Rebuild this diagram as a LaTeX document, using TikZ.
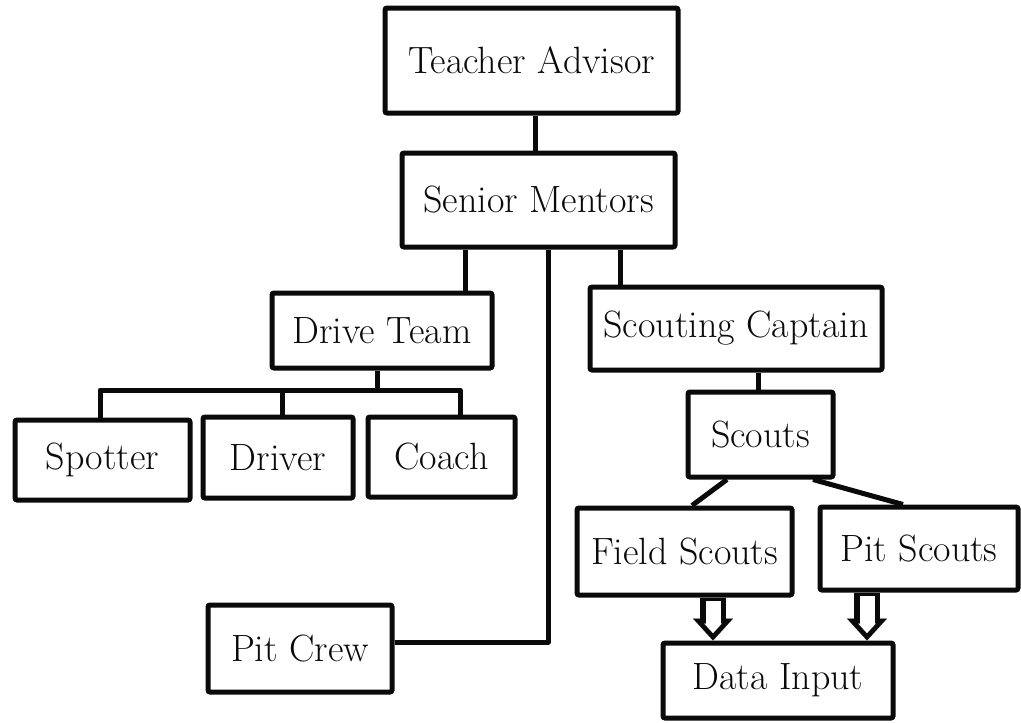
\documentclass[tikz,border=0pt]{standalone}
\usepackage{xcolor}
\usepackage{tikz}
\usetikzlibrary{calc,arrows.meta}
\definecolor{ink}{HTML}{0A0A0A}
\definecolor{paper}{HTML}{FFFFFF}
\tikzset{
  box/.style={draw=ink, fill=paper, line width=5pt, rounded corners=2pt, inner sep=0pt, text=ink, font=\fontsize{38}{44}\selectfont},
  link/.style={draw=ink, line width=5pt, line join=round},
  feed/.style={draw=ink, line width=26pt, -{Triangle[length=22pt, width=40pt, line width=0.01pt]},
    postaction={draw=paper, line width=15pt, shorten <=3pt, shorten >=7.4pt, -{Triangle[length=9.6pt, width=17.5pt, line width=0.01pt]}}},
}

\begin{document}
\begin{tikzpicture}[x=1pt,y=-1pt]
  \useasboundingbox[fill=paper] (0,0) rectangle (1021,723);
  % boxes
  \node[box, minimum width=293pt, minimum height=105pt] (teacher) at (531.5,60.5) {Teacher Advisor};
  \node[box, minimum width=273pt, minimum height=94pt] (senior) at (538.5,200) {Senior Mentors};
  \node[box, minimum width=220pt, minimum height=75pt] (drive) at (382,330.5) {Drive Team};
  \node[box, minimum width=175pt, minimum height=80pt] (spotter) at (102.5,460) {Spotter};
  \node[box, minimum width=150pt, minimum height=81pt] (driver) at (278,457.5) {Driver};
  \node[box, minimum width=147pt, minimum height=80pt] (coach) at (441.5,457) {Coach};
  \node[box, minimum width=184pt, minimum height=87pt] (pitcrew) at (300,648.5) {Pit Crew};
  \node[box, minimum width=292pt, minimum height=83pt] (captain) at (736,328.5) {Scouting Captain};
  \node[box, minimum width=145pt, minimum height=85pt] (scouts) at (760.5,434.5) {Scouts};
  \node[box, minimum width=215pt, minimum height=87pt] (field) at (684.5,551.5) {Field Scouts};
  \node[box, minimum width=198pt, minimum height=83pt] (pitscouts) at (919,548.5) {Pit Scouts};
  \node[box, minimum width=230pt, minimum height=75pt] (data) at (778,680.5) {Data Input};

  % tree
  \draw[link] ([xshift=3.5pt]teacher.south) -- ([xshift=3.5pt]teacher.south |- senior.north);
  \draw[link] ([xshift=83pt]drive.north) -- ([xshift=83pt]drive.north |- senior.south);
  \draw[link] ([xshift=-116pt]captain.north) -- ([xshift=-116pt]captain.north |- senior.south);
  \draw[link] (pitcrew.east |- 0,642) -| ([xshift=9.5pt]senior.south);

  \coordinate (bus) at (377,390);
  \draw[link] ([xshift=-5pt]drive.south) -- ([xshift=-5pt]drive.south |- bus);
  \draw[link] ([xshift=-2.5pt]spotter.north) |- (bus) -| ([xshift=18.5pt]coach.north);
  \draw[link] ([xshift=4pt]driver.north) -- ([xshift=4pt]driver.north |- bus);

  \draw[link] ([xshift=22pt]captain.south) -- ([xshift=22pt]captain.south |- scouts.north);
  \draw[link] ([xshift=-33.5pt]scouts.south) -- ([xshift=7.5pt]field.north);
  \draw[link] ([xshift=52.5pt]scouts.south) -- ([xshift=-16pt]pitscouts.north);

  % data flow
  \draw[feed] ([xshift=28.5pt]field.south) -- ([xshift=-65pt]data.north);
  \draw[feed] ([xshift=-52pt]pitscouts.south) -- ([xshift=89pt]data.north);
\end{tikzpicture}
\end{document}
